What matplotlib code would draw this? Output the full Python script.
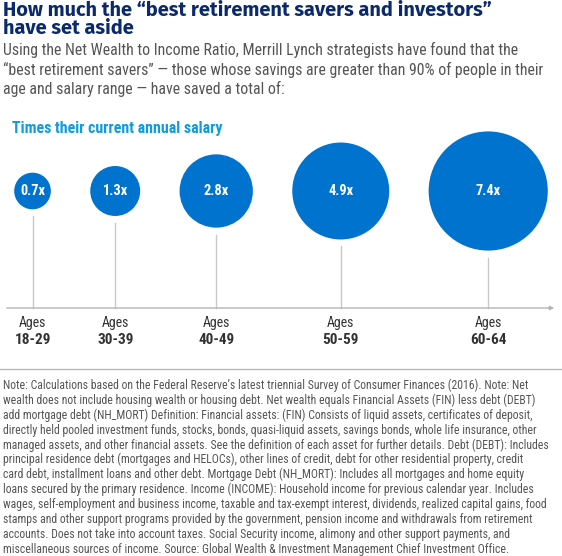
import matplotlib
matplotlib.use("Agg")
import matplotlib.pyplot as plt
from matplotlib.patches import Circle
import numpy as np

# data
age_ranges = ["18-29", "30-39", "40-49", "50-59", "60-64"]
multiples = [0.7, 1.3, 2.8, 4.9, 7.4]
labels = ["0.7x", "1.3x", "2.8x", "4.9x", "7.4x"]

title_lines = ["How much the \u201cbest retirement savers and investors\u201d",
               "have set aside"]
subtitle_lines = [
    "Using the Net Wealth to Income Ratio, Merrill Lynch strategists have found that the",
    "\u201cbest retirement savers\u201d \u2014 those whose savings are greater than 90% of people in their",
    "age and salary range \u2014 have saved a total of:",
]
note_lines = [
    "Note: Calculations based on the Federal Reserve\u2019s latest triennial Survey of Consumer Finances (2016). Note: Net",
    "wealth does not include housing wealth or housing debt. Net wealth equals Financial Assets (FIN) less debt (DEBT)",
    "add mortgage debt (NH_MORT) Definition: Financial assets: (FIN) Consists of liquid assets, certificates of deposit,",
    "directly held pooled investment funds, stocks, bonds, quasi-liquid assets, savings bonds, whole life insurance, other",
    "managed assets, and other financial assets. See the definition of each asset for further details. Debt (DEBT): Includes",
    "principal residence debt (mortgages and HELOCs), other lines of credit, debt for other residential property, credit",
    "card debt, installment loans and other debt. Mortgage Debt (NH_MORT): Includes all mortgages and home equity",
    "loans secured by the primary residence. Income (INCOME): Household income for previous calendar year. Includes",
    "wages, self-employment and business income, taxable and tax-exempt interest, dividends, realized capital gains, food",
    "stamps and other support programs provided by the government, pension income and withdrawals from retirement",
    "accounts. Does not take into account taxes. Social Security income, alimony and other support payments, and",
    "miscellaneous sources of income. Source: Global Wealth & Investment Management Chief Investment Office.",
]

NAVY = "#0b2a6e"
BLUE = "#0073cf"
CYAN = "#0f9bdc"
GREY = "#555555"
COND = ["Roboto Condensed", "DejaVu Sans"]
HEAD = ["Fira Sans", "DejaVu Sans"]

W, H = 562, 556
fig = plt.figure(figsize=(W / 100, H / 100), dpi=100)
ax = fig.add_axes([0, 0, 1, 1])
ax.set_xlim(0, W)
ax.set_ylim(H, 0)
ax.axis("off")

# titles
for i, line in enumerate(title_lines):
    ax.text(3, 16.5 + i * 18, line, fontsize=14.4, fontweight="bold", color=NAVY,
            family=HEAD, va="baseline")
for i, line in enumerate(subtitle_lines):
    ax.text(3, 55 + i * 19.6, line, fontsize=11.4, color=GREY,
            family=COND, va="baseline")
ax.text(12, 133.5, "Times their current annual salary", fontsize=11.4,
        fontweight="bold", color=CYAN, family=COND, va="baseline")

# bubbles: area proportional to the multiple, laid out with equal gaps
radii = 21.9 * np.sqrt(multiples)
gap = 39.4
xs = []
x = 14.2
for r in radii:
    xs.append(x + r)
    x += 2 * r + gap
cy = 191
axis_y = 308
for xc, r, lab, age in zip(xs, radii, labels, age_ranges):
    ax.add_patch(Circle((xc, cy), r, color=BLUE, lw=0))
    ax.text(xc, cy, lab, color="white", fontsize=10.4, fontweight="bold",
            family=COND, ha="center", va="center")
    ax.plot([xc, xc], [cy + r + 7, axis_y], color="#c8c8c8", lw=1)
    ax.text(xc, 327, "Ages", fontsize=10, color="#333333", family=COND,
            ha="center", va="baseline")
    ax.text(xc, 343.5, age, fontsize=11, fontweight="bold", color="#333333",
            family=COND, ha="center", va="baseline")

ax.annotate("", xy=(557, axis_y), xytext=(4, axis_y),
            arrowprops=dict(arrowstyle="-|>", color="#b4b4b4", lw=1,
                            mutation_scale=6))

ax.plot([0, W], [369, 369], color="#b8b8b8", lw=1)

for i, line in enumerate(note_lines):
    ax.text(3, 389 + i * 14.9, line, fontsize=8.45, color=GREY,
            family=COND, va="baseline")

fig.savefig("out.png", dpi=100, facecolor="white")
